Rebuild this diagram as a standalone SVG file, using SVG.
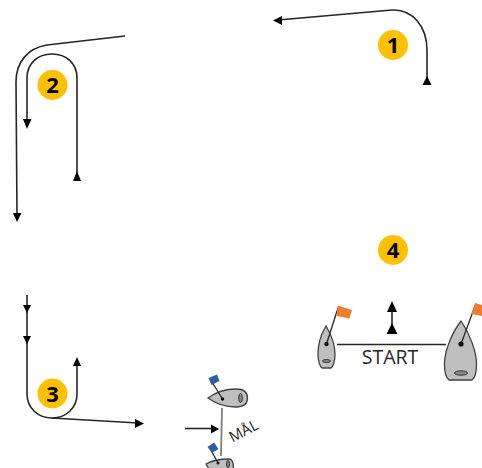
<svg xmlns="http://www.w3.org/2000/svg" width="482" height="468" viewBox="0 0 482 468">
<style>
.c{fill:none;stroke:#262626;stroke-width:1.6}
.h{fill:#000}
.b{fill:#bfbfbf;stroke:#404040;stroke-width:1.3}
.p{fill:none;stroke:#262626;stroke-width:1.3}
.d{fill:#111}
.o{fill:#ed7d31}
.f{fill:#2f5f9e}
.m{fill:#ffc000}
.n{font-family:"Open Sans","Liberation Sans",sans-serif;font-weight:700;font-size:22px;fill:#000;text-anchor:middle}
.t{font-family:"Open Sans","Liberation Sans",sans-serif;font-size:19.500px;fill:#262626;text-anchor:middle}
</style>
<g id="connectors">
<path class="c" d="M427 82V50C427 27 413 9 392 10L278 20"/>
<path class="h" d="M273 20.500L282 16V25Z"/>
<path class="h" d="M427 76L431.500 85H422.500Z"/>
<path class="c" d="M125 36L47 45C28 48 16 62 16 82L17 216"/>
<path class="h" d="M17 222L13 213H21.500Z"/>
<path class="c" d="M77 178V78C77 63 66 54 52 54C38 54 27 63 27 78V122"/>
<path class="h" d="M27 129L23 119H31.500Z"/>
<path class="h" d="M77 171L81 181H73Z"/>
<path class="c" d="M27 295V394C27 408 38 418 52 418C66 418 77 408 77 394V362"/>
<path class="h" d="M77 357L81 366H73Z"/>
<path class="h" d="M27 313L23 305H31Z"/>
<path class="h" d="M27 344L23 336H31Z"/>
<path class="c" d="M52 418L138 423"/>
<path class="h" d="M144 423.500L135 419V428Z"/>
<path class="c" d="M337 344.500H446"/>
<path class="c" d="M392 305V330"/>
<path class="h" d="M392 301L397 312H387Z"/>
<path class="h" d="M392 323L397.500 334H386.500Z"/>
<path class="c" d="M185 428.500H213"/>
<path class="h" d="M219 429L211 424.500V433.500Z"/>
<path d="M222 408L221 456" fill="none" stroke="#7f7f7f" stroke-width="1.800"/>
</g>
<g id="badge-1"><circle class="m" cx="393" cy="45" r="15"/><text class="n" x="393" y="53">1</text></g>
<g id="badge-2"><circle class="m" cx="52.500" cy="85" r="15"/><text class="n" x="52.500" y="93">2</text></g>
<g id="badge-3"><circle class="m" cx="52.500" cy="393.500" r="15"/><text class="n" x="52.500" y="401.500">3</text></g>
<g id="badge-4"><circle class="m" cx="393" cy="250" r="15"/><text class="n" x="393" y="258">4</text></g>
<g id="boat-start-left">
<path class="b" d="M326 326C320 336 318 346 318 354C318 361 320 367 322 368H331C333 367 335 361 335 354C335 346 332 336 326 326Z"/>
<ellipse cx="326.500" cy="361" rx="4" ry="1.500" fill="#888" stroke="#333"/>
<path class="p" d="M326.500 344L338 308"/><circle class="d" cx="326.500" cy="344" r="2.200"/>
<path class="o" d="M337.500 305.500L352 310L349.500 318.500L336.500 316Z"/>
</g>
<g id="boat-start-right">
<path class="b" d="M461 321C451 334 444.500 352 444.500 364C444.500 372 446 378 449 380H472C475 378 476.500 372 476.500 364C476.500 352 470 334 461 321Z"/>
<ellipse cx="461" cy="373" rx="6.500" ry="2.200" fill="#888" stroke="#333"/>
<path class="p" d="M461 344L475 306"/><circle class="d" cx="461" cy="344" r="2.600"/>
<path class="o" d="M475 303L482 305V316L471.500 314Z"/>
</g>
<g id="start-label"><text class="t" x="390" y="364">START</text></g>
<g id="boat-finish-top">
<path class="b" d="M208 398C216 392 226 389 236 389C243 389 247.500 392 247.500 398C247.500 404 243 407 236 407C226 407 216 404 208 398Z"/>
<ellipse cx="240.500" cy="398" rx="1.800" ry="4.500" fill="#888" stroke="#333"/>
<path class="p" d="M222.500 399L212 382"/><circle class="d" cx="222.500" cy="399" r="1.700"/>
<path class="f" d="M208.500 378L217 374.500L219.500 381L211.500 385Z"/>
</g>
<g id="boat-finish-bottom">
<path class="b" d="M206 464C213 460 222 459 229 459C232 459 233.500 462 233.500 469H209L206 464Z"/>
<ellipse cx="228" cy="464" rx="1.500" ry="3.500" fill="#888" stroke="#333"/>
<path class="p" d="M218 463L212 452"/><circle class="d" cx="218" cy="463" r="1.500"/>
<path class="f" d="M207.500 447L214 442.500L218.500 449L212 453Z"/>
</g>
<g id="finish-label"><text class="t" x="0" y="0" style="font-size:15px" transform="translate(246 435.500) rotate(-28)">MÅL</text></g>
</svg>
